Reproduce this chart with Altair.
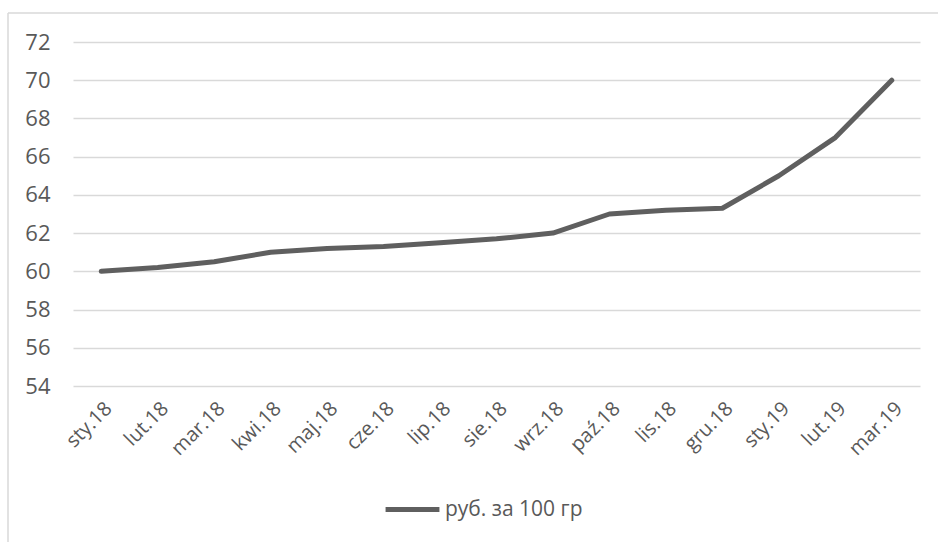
import altair as alt
import pandas as pd

# Monthly price series (roubles per 100 g)
months = ["sty.18", "lut.18", "mar.18", "kwi.18", "maj.18", "cze.18", "lip.18",
          "sie.18", "wrz.18", "paź.18", "lis.18", "gru.18", "sty.19", "lut.19", "mar.19"]
prices = [60.0, 60.2, 60.5, 61.0, 61.2, 61.3, 61.5, 61.7, 62.0, 63.0, 63.2, 63.3, 65.0, 67.0, 70.0]
series_name = "руб. за 100 гр"
y_ticks = [54, 56, 58, 60, 62, 64, 66, 68, 70, 72]

df = pd.DataFrame({"month": months, "price": prices, "series": series_name})

FONT = "Open Sans"
TEXT = "#595959"
GRID = "#d9d9d9"
LINE = "#5f5f5f"
FS = 22

W, H = 847, 344
PAD = {"left": 73, "top": 42, "right": 938 - 73 - W, "bottom": 542 - 42 - H}

line = alt.Chart(df).mark_line(strokeWidth=5, strokeCap="round", strokeJoin="round").encode(
    x=alt.X("month:N", sort=months,
            scale=alt.Scale(type="point", padding=0.5),
            axis=alt.Axis(title=None, labelAngle=-45, labelFontSize=20, labelColor=TEXT,
                          labelFont=FONT, labelPadding=12, ticks=False, domain=False,
                          grid=False)),
    y=alt.Y("price:Q", scale=alt.Scale(domain=[54, 72], nice=False, zero=False),
            axis=alt.Axis(title=None, values=y_ticks, labelFontSize=FS, labelColor=TEXT,
                          labelFont=FONT, labelPadding=23, ticks=False, domain=False,
                          grid=True, gridColor=GRID, gridWidth=1.5)),
    color=alt.Color("series:N",
                    scale=alt.Scale(domain=[series_name], range=[LINE]),
                    legend=alt.Legend(title=None, orient="none", legendX=310, legendY=438,
                                      symbolType="stroke", symbolSize=2900,
                                      symbolStrokeWidth=5, labelFontSize=21,
                                      labelColor=TEXT, labelFont=FONT, labelOffset=3)),
)

# Outer chart frame (top and left edges)
frame_top = alt.Chart().mark_rule(color=GRID, strokeWidth=1.5).encode(
    x=alt.value(8 - 73), x2=alt.value(938 - 73 + 10), y=alt.value(13 - 42))
frame_left = alt.Chart().mark_rule(color=GRID, strokeWidth=1.5).encode(
    x=alt.value(8 - 73), y=alt.value(13 - 42), y2=alt.value(542 - 42 + 10))

chart = alt.layer(frame_top, frame_left, line).properties(
    width=W, height=H, padding=PAD, autosize=alt.AutoSizeParams(type="none"),
    background="white",
).configure_view(stroke=None)

chart.save("out.html", embed_options={"renderer": "svg", "actions": False})
